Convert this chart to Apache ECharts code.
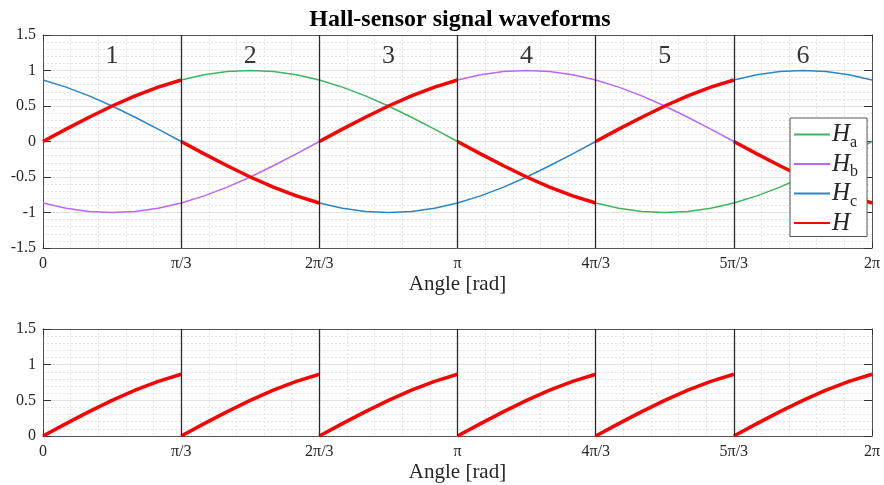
<!DOCTYPE html>
<html>
<head>
<meta charset="utf-8">
<script src="https://cdn.jsdelivr.net/npm/echarts@6/dist/echarts.min.js"></script>
<style>
  html, body { margin: 0; padding: 0; background: #fff; }
  #chart { width: 884px; height: 485px; }
</style>
</head>
<body>
<div id="chart"></div>
<script>
// angles in degrees, every 10 deg, 0..360
var angles = [0,10,20,30,40,50,60,70,80,90,100,110,120,130,140,150,160,170,180,
  190,200,210,220,230,240,250,260,270,280,290,300,310,320,330,340,350,360]
var ha = [0,.174,.342,.5,.643,.766,.866,.940,.985,1,.985,.940,.866,.766,.643,.5,.342,.174,0,
  -.174,-.342,-.5,-.643,-.766,-.866,-.940,-.985,-1,-.985,-.940,-.866,-.766,-.643,-.5,-.342,-.174,0]
var hb = [-.866,-.940,-.985,-1,-.985,-.940,-.866,-.766,-.643,-.5,-.342,-.174,0,.174,.342,.5,.643,.766,.866,
  .940,.985,1,.985,.940,.866,.766,.643,.5,.342,.174,0,-.174,-.342,-.5,-.643,-.766,-.866]
var hc = [.866,.766,.643,.5,.342,.174,0,-.174,-.342,-.5,-.643,-.766,-.866,-.940,-.985,-1,-.985,-.940,-.866,
  -.766,-.643,-.5,-.342,-.174,0,.174,.342,.5,.643,.766,.866,.940,.985,1,.985,.940,.866]
// one 60 deg piece of H, and its sign in each sector
var segAngles = [0,10,20,30,40,50,60]
var segValues = [0,.174,.342,.5,.643,.766,.866]
var segSign = [1,-1,1,-1,1,-1]
var sectorNames = ['1','2','3','4','5','6']
var sectorMid = [30,90,150,210,270,330]
var sectorEdges = [60,120,180,240,300]
var xTickLabels = ['0','π/3','2π/3','π','4π/3','5π/3','2π']

var font = 'Liberation Serif'

function pairs(xs, ys){
  return xs.map(function(x,i){ return [x, ys[i]] })
}
function hData(signs){
  var out = []
  signs.forEach(function(s,k){
    segAngles.forEach(function(a,i){ out.push([k*60+a, s*segValues[i]]) })
    if (k < signs.length-1) out.push([k*60+60, '-'])
  })
  return out
}

var chart = echarts.init(document.getElementById('chart'))

function xAx(grid, pos, show){
  return {
    type: 'value', gridIndex: grid, position: pos, min: 0, max: 360, interval: 60,
    axisLine: { show: true, onZero: false, lineStyle: { color: '#555', width: 1 } },
    axisTick: { show: true, inside: true, length: 6, lineStyle: { color: '#333' } },
    minorTick: { show: false, splitNumber: 5 },
    minorSplitLine: { show: show, lineStyle: { color: '#e4e4e4', type: [2,2], width: 1 } },
    splitLine: { show: show, lineStyle: { color: '#e2e2e2' } },
    axisLabel: { show: show, margin: 8, color: '#262626', fontFamily: font, fontSize: 16,
      formatter: function(v){ return xTickLabels[Math.round(v/60)] } },
    name: show ? 'Angle [rad]' : '', nameLocation: 'middle', nameGap: 26,
    nameTextStyle: { color: '#262626', fontFamily: font, fontSize: 21 }
  }
}
function yAx(grid, pos, min, max, show){
  return {
    type: 'value', gridIndex: grid, position: pos, min: min, max: max, interval: 0.5,
    axisLine: { show: true, onZero: false, lineStyle: { color: '#555', width: 1 } },
    axisTick: { show: true, inside: true, length: 8, lineStyle: { color: '#333' } },
    minorTick: { show: false, splitNumber: 5 },
    minorSplitLine: { show: show, lineStyle: { color: '#e4e4e4', type: [2,2], width: 1 } },
    splitLine: { show: show, lineStyle: { color: '#e2e2e2' } },
    axisLabel: { show: show, margin: 7, color: '#262626', fontFamily: font, fontSize: 16 }
  }
}

var edgeLines = {
  silent: true, symbol: 'none', label: { show: false },
  lineStyle: { color: '#2a2a2a', type: 'solid', width: 1.3 },
  data: sectorEdges.map(function(x){ return { xAxis: x } })
}

var rich = {
  h: { fontFamily: font, fontStyle: 'italic', fontSize: 25, color: '#262626' },
  s: { fontFamily: font, fontSize: 16, color: '#262626', padding: [16,0,0,0] }
}

chart.setOption({
  backgroundColor: '#fff',
  animation: false,
  title: {
    text: 'Hall-sensor signal waveforms', left: 455, top: 3, textAlign: 'center',
    textStyle: { fontFamily: font, fontWeight: 'bold', fontSize: 24, color: '#000' }
  },
  grid: [
    { left: 43, top: 35, width: 829, height: 213 },
    { left: 43, top: 329, width: 829, height: 107 }
  ],
  xAxis: [ xAx(0,'bottom',true), xAx(0,'top',false), xAx(1,'bottom',true), xAx(1,'top',false) ],
  yAxis: [ yAx(0,'left',-1.5,1.5,true), yAx(0,'right',-1.5,1.5,false),
           yAx(1,'left',0,1.5,true), yAx(1,'right',0,1.5,false) ],
  legend: {
    orient: 'vertical', left: 790, top: 118, z: 20,
    backgroundColor: '#fff', borderColor: '#555', borderWidth: 1,
    padding: [4,9,1,3], itemGap: 1, itemWidth: 36, itemHeight: 14,
    itemStyle: { opacity: 0 },
    data: ['Ha','Hb','Hc','H'],
    formatter: function(n){ return n.length > 1 ? '{h|H}{s|' + n.charAt(1) + '}' : '{h|H}' },
    textStyle: { rich: rich, padding: [0,0,0,-3] }
  },
  series: [
    { name: 'Ha', type: 'line', xAxisIndex: 0, yAxisIndex: 0, symbol: 'none',
      color: '#3db55c', lineStyle: { width: 1.5 }, data: pairs(angles, ha), z: 3 },
    { name: 'Hb', type: 'line', xAxisIndex: 0, yAxisIndex: 0, symbol: 'none',
      color: '#bb66f5', lineStyle: { width: 1.5 }, data: pairs(angles, hb), z: 3 },
    { name: 'Hc', type: 'line', xAxisIndex: 0, yAxisIndex: 0, symbol: 'none',
      color: '#2a86c8', lineStyle: { width: 1.5 }, data: pairs(angles, hc), z: 3 },
    { name: 'H', type: 'line', xAxisIndex: 0, yAxisIndex: 0, symbol: 'none',
      color: '#ff0000', lineStyle: { width: 3.5 }, connectNulls: false,
      data: hData(segSign), markLine: edgeLines, z: 4 },
    { name: 'sectors', type: 'scatter', xAxisIndex: 0, yAxisIndex: 0, symbolSize: 0,
      silent: true, z: 5,
      label: { show: true, position: 'inside', color: '#000', fontFamily: font, fontSize: 26,
        formatter: function(p){ return sectorNames[p.dataIndex] } },
      data: sectorMid.map(function(x){ return [x, 1.2] }) },
    { name: 'Hbottom', type: 'line', xAxisIndex: 2, yAxisIndex: 2, symbol: 'none',
      color: '#ff0000', lineStyle: { width: 3.5 }, connectNulls: false,
      data: hData(segSign.map(function(){ return 1 })), markLine: edgeLines, z: 4 }
  ]
})
</script>
</body>
</html>
